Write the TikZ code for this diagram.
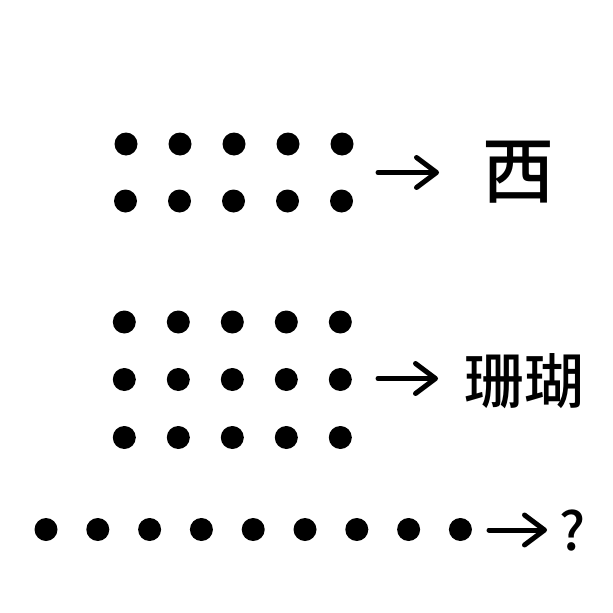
\documentclass[tikz,border=0pt]{standalone}
\usepackage{fontspec}
\newfontfamily\cjk{Noto Sans CJK SC}[UprightFont=* Medium]
\usetikzlibrary{arrows.meta}
\begin{document}
\begin{tikzpicture}[x=1pt,y=-1pt,
  dot/.style={circle,fill=black,minimum size=23pt,inner sep=0pt},
  conn/.style={line width=5pt,line cap=round,line join=round,
    -{Straight Barb[length=20pt,width=30pt,round]}},
  lab/.style={inner sep=0pt,font=\cjk}]
\useasboundingbox (0,0) rectangle (613,613);
% top group
\foreach \i in {0,...,4}{
  \node[dot] (a\i) at ({126+54*\i},144) {};
  \node[dot] (b\i) at ({125.5+54*\i},201) {};
}
\coordinate (s1) at (378,172.5);
\node[lab,font=\cjk\fontsize{72}{72}\selectfont] (t1) at (518,172) {西};
\coordinate (e1) at (439,172.5);
\draw[conn] (s1) -- (e1);
% middle group
\foreach \i in {0,...,4}{
  \node[dot] (c\i) at ({124.3+54*\i},322) {};
  \node[dot] (d\i) at ({124.3+54*\i},379.5) {};
  \node[dot] (f\i) at ({124.3+54*\i},437.5) {};
}
\coordinate (s2) at (378,378.5);
\node[lab,font=\cjk\fontsize{60}{60}\selectfont] (t2) at (524,381) {珊瑚};
\coordinate (e2) at (438,378.5);
\draw[conn] (s2) -- (e2);
% bottom row
\foreach \i in {0,...,8}{
  \node[dot] (g\i) at ({46+51.8*\i},529.5) {};
}
\coordinate (s3) at (489,530);
\node[lab,font=\cjk\fontsize{53}{53}\selectfont] (t3) at (572.5,530.5) {?};
\coordinate (e3) at (547,530);
\draw[conn] (s3) -- (e3);
\end{tikzpicture}
\end{document}
